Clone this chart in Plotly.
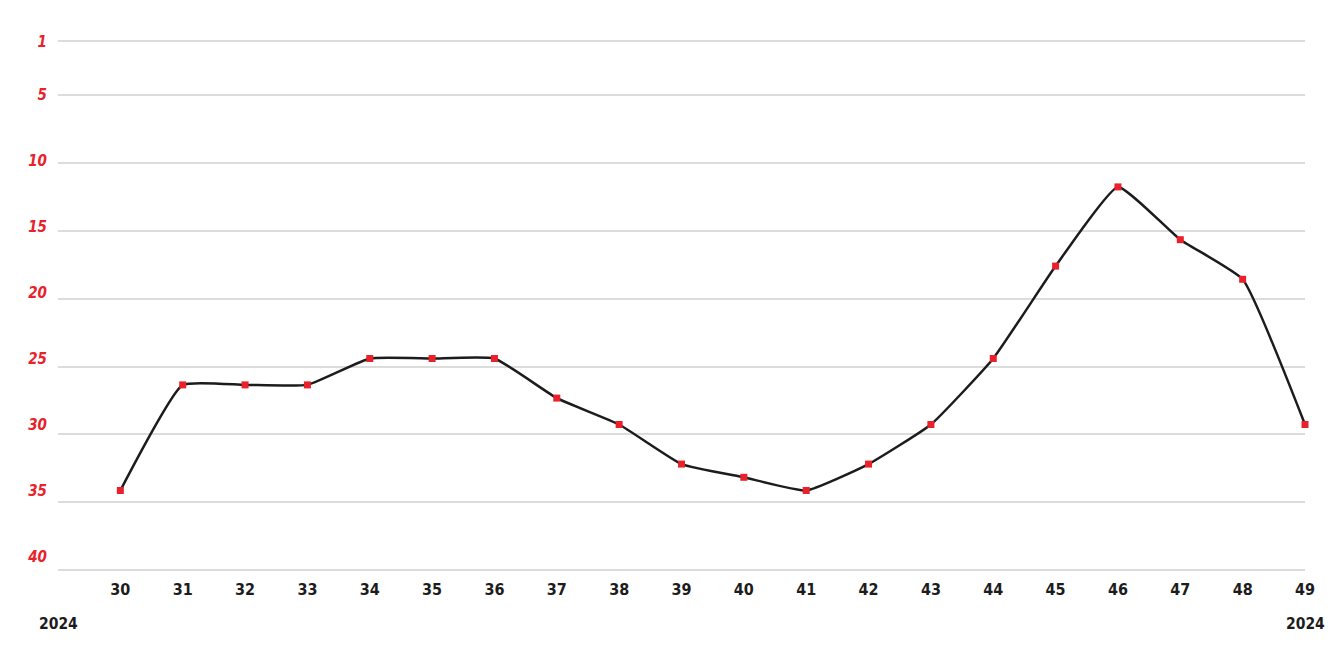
import plotly.graph_objects as go

weeks = [30, 31, 32, 33, 34, 35, 36, 37, 38, 39, 40, 41, 42, 43, 44, 45, 46, 47, 48, 49]
ranks = [35, 27, 27, 27, 25, 25, 25, 28, 30, 33, 34, 35, 33, 30, 25, 18, 12, 16, 19, 30]
y_ticks = [1, 5, 10, 15, 20, 25, 30, 35, 40]
year_labels = ["2024", "2024"]

RED = "#e8212b"
INK = "#1c1c1c"
FONT = "DejaVu Sans Condensed, Liberation Sans Narrow, Roboto, sans-serif"

fig = go.Figure()
fig.add_trace(go.Scatter(
    x=weeks, y=ranks, mode="lines+markers", yaxis="y",
    line=dict(color=INK, width=2.5, shape="spline", smoothing=0.4),
    marker=dict(symbol="square", size=7, color=RED),
    cliponaxis=False, showlegend=False,
))
# invisible trace anchoring the gridline axis
fig.add_trace(go.Scatter(x=[weeks[0]], y=[y_ticks[0]], mode="markers",
                         marker=dict(opacity=0), hoverinfo="skip",
                         showlegend=False, yaxis="y2"))

fig.update_layout(
    width=1325, height=658,
    margin=dict(l=50, r=28, t=32, b=95),
    paper_bgcolor="white", plot_bgcolor="white",
    xaxis=dict(
        range=[29, 49], tickmode="array", tickvals=weeks,
        ticktext=[str(w) for w in weeks], showgrid=False, zeroline=False,
        showline=False, ticks="", ticklabelstandoff=7,
        tickfont=dict(family=FONT, size=16, color=INK, weight="bold"),
    ),
    # labelled axis carrying the ranks
    yaxis=dict(
        range=[41.1, 0.871], tickmode="array", tickvals=y_ticks,
        ticktext=[str(t) for t in y_ticks], showgrid=False,
        zeroline=False, showline=False,
        ticks="", ticklabelstandoff=10,
        tickfont=dict(family=FONT, size=15, color=RED, weight="bold", style="italic"),
    ),
    # gridline axis
    yaxis2=dict(
        range=[40.08, 0.92], overlaying="y", tickmode="array", tickvals=y_ticks,
        showticklabels=False, showgrid=True, gridcolor="#dcdcdc", gridwidth=1.5,
        zeroline=False, showline=False, ticks="", layer="below traces",
    ),
)

fig.add_annotation(x=weeks[0] - 1, y=-0.0998, xref="x", yref="paper",
                   text=year_labels[0], showarrow=False, xanchor="center",
                   yanchor="middle",
                   font=dict(family=FONT, size=15.5, color=INK, weight="bold"))
fig.add_annotation(x=weeks[-1], y=-0.0998, xref="x", yref="paper",
                   text=year_labels[1], showarrow=False, xanchor="center",
                   yanchor="middle",
                   font=dict(family=FONT, size=15.5, color=INK, weight="bold"))

fig.write_html("out.html")
